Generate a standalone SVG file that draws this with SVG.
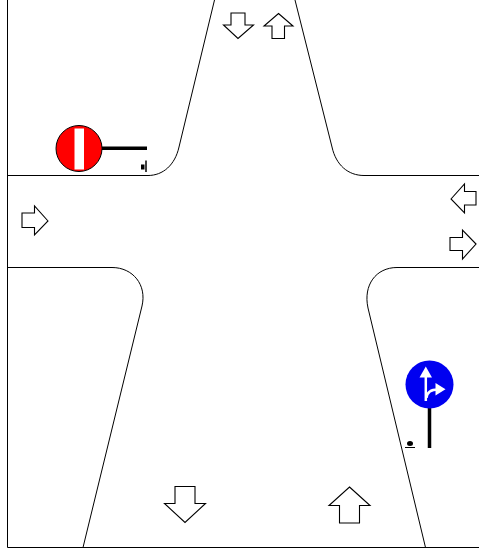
<svg xmlns="http://www.w3.org/2000/svg" width="479" height="554" viewBox="0 0 479 554">
<style>
.road{fill:none;stroke:#000;stroke-width:1}
.arrow{fill:#fff;stroke:#000;stroke-width:1.100}
.pole{fill:none;stroke:#000;stroke-width:3.500}
.wl{fill:none;stroke:#fff;stroke-width:2.500}
</style>
<rect width="479" height="554" fill="#fff"/>
<g id="road">
<path class="road" d="M7.500 0V547.500H479"/>
<path class="road" d="M7.500 175.500H148C163 175.500 175 165 179 147L214.500 0"/>
<path class="road" d="M295 0L332 147C336 165 348 175.500 364 175.500H479"/>
<path class="road" d="M479 267.500H397C376 267.500 363 285 368 308L425.500 547.500"/>
<path class="road" d="M7.500 267.500H112C133 267.500 147 285 142 306L83 547.500"/>
</g>
<g id="arrows">
<polygon id="arrow-top-down" class="arrow" points="231,13 245,13 245,25 253.500,25 238,38.500 223.500,25 231,25"/>
<polygon id="arrow-top-up" class="arrow" points="278.500,13.500 293,26 284.500,26 284.500,38.500 272,38.500 272,26 264,26"/>
<polygon id="arrow-right-left" class="arrow" points="451,199 464.500,184 464.500,191.500 476,191.500 476,205 464.500,205 464.500,213"/>
<polygon id="arrow-right-right" class="arrow" points="476,244 462.500,230 462.500,237.500 450,237.500 450,250.500 462.500,250.500 462.500,259"/>
<polygon id="arrow-left-right" class="arrow" points="48,221 34.500,206 34.500,213 22,213 22,227.500 34.500,227.500 34.500,235"/>
<polygon id="arrow-bottom-down" class="arrow" points="175,486.500 195,486.500 195,503.500 205.500,503.500 185,522.500 164.500,503.500 175,503.500"/>
<polygon id="arrow-bottom-up" class="arrow" points="349.500,487 370,505.500 359.500,505.500 359.500,523 339.500,523 339.500,505.500 329,505.500"/>
</g>
<g id="sign-no-entry">
<path class="pole" d="M102 148.300H147"/>
<circle cx="79" cy="148.500" r="23" fill="#f00" stroke="#000" stroke-width="1"/>
<rect x="74.500" y="128.500" width="9.500" height="41" fill="#fff"/>
<rect x="141" y="164.500" width="3.500" height="5" fill="#000"/>
<path d="M146 160.500V172" stroke="#000" stroke-width="1.500"/>
</g>
<g id="sign-direction">
<path class="pole" d="M429.500 405V448"/>
<circle cx="429.500" cy="384.500" r="24" fill="#0000f0"/>
<path class="wl" d="M425.800 375V401"/>
<polygon points="425.800,366.500 432,377.500 419.500,377.500" fill="#fff"/>
<path class="wl" d="M426.500 398C427 392 431 389.500 438 389.500"/>
<polygon points="445.500,389.300 435.500,383 435.500,395.500" fill="#fff"/>
<ellipse cx="410" cy="443.500" rx="3" ry="2.500" fill="#000"/>
<path d="M405 447.500H415" stroke="#000" stroke-width="1"/>
</g>
</svg>
